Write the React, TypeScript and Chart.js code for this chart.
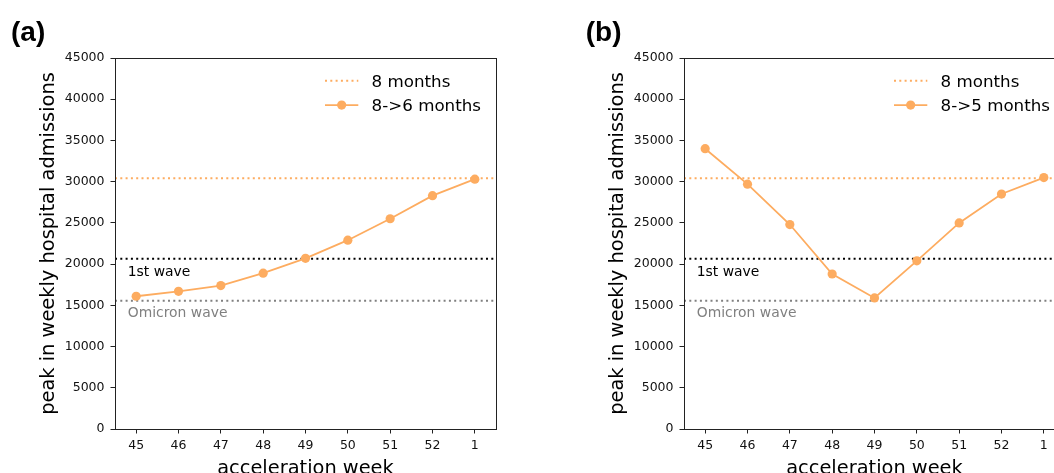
import React, { useEffect, useRef } from 'react';
import { Chart, registerables } from 'chart.js';

Chart.register(...registerables);

// ---------- data ----------
const WEEKS = ['45', '46', '47', '48', '49', '50', '51', '52', '1'];
const SERIES_A = [16100, 16700, 17400, 18900, 20700, 22900, 25500, 28300, 30300];
const SERIES_B = [34000, 29700, 24800, 18800, 15900, 20400, 25000, 28500, 30500];
const LABEL_A = '8->6 months';
const LABEL_B = '8->5 months';
const REF_LABEL = '8 months';
const REF_8_MONTHS = 30400;
const FIRST_WAVE = 20650;
const OMICRON_WAVE = 15550;
const FIRST_WAVE_TEXT = '1st wave';
const OMICRON_TEXT = 'Omicron wave';
const FIRST_WAVE_TEXT_Y = 18600;
const OMICRON_TEXT_Y = 13600;
const TEXT_X = -0.2;
const Y_MIN = 0;
const Y_MAX = 45000;
const Y_STEP = 5000;
const Y_TITLE = 'peak in weekly hospital admissions';
const X_TITLE = 'acceleration week';

// ---------- styles ----------
const ORANGE = 'rgb(253,172,96)';
const FONT = "'DejaVu Sans'";
const CANVAS_W = 527;
const CANVAS_H = 473;
const TICK_SIZE = 12.5;

const X_MIN = -0.5;
const X_MAX = WEEKS.length - 0.5;

const refPoints = (y: number) => [
  { x: X_MIN, y },
  { x: X_MAX, y },
];

const mplPlugin = {
  id: 'mplExtras',
  afterDatasetsDraw(chart: any, _args: any, opts: any) {
    const ctx = chart.ctx;
    const area = chart.chartArea;
    const xs = chart.scales.x;
    const ys = chart.scales.y;
    ctx.save();
    // reference text labels
    ctx.font = `13.9px ${FONT}`;
    ctx.textBaseline = 'alphabetic';
    ctx.textAlign = 'left';
    (opts.texts || []).forEach((t: any) => {
      ctx.fillStyle = t.color;
      ctx.fillText(t.text, xs.getPixelForValue(t.x), ys.getPixelForValue(t.y));
    });
    // legend (matplotlib-like, upper right)
    const items = chart.data.datasets.filter((d: any) => d.label);
    const fs = 16.7;
    ctx.font = `${fs}px ${FONT}`;
    const tw = Math.max(...items.map((d: any) => ctx.measureText(d.label).width));
    const textX = area.right - 15 - tw;
    const handleR = textX - 13.3;
    const handleL = handleR - 33.3;
    items.forEach((d: any, i: number) => {
      const y = area.top + 22.8 + i * 24.3;
      ctx.strokeStyle = d.borderColor;
      ctx.lineWidth = d.borderWidth;
      ctx.setLineDash(d.borderDash || []);
      ctx.beginPath();
      ctx.moveTo(handleL, y);
      ctx.lineTo(handleR, y);
      ctx.stroke();
      ctx.setLineDash([]);
      if (d.pointRadius > 0) {
        ctx.fillStyle = d.pointBackgroundColor;
        ctx.beginPath();
        ctx.arc((handleL + handleR) / 2, y, d.pointRadius, 0, Math.PI * 2);
        ctx.fill();
      }
      ctx.fillStyle = '#000';
      ctx.textBaseline = 'alphabetic';
      ctx.fillText(d.label, textX, y + 0.36 * fs);
    });
    // box spines
    ctx.strokeStyle = '#222';
    ctx.lineWidth = 1;
    const l = Math.round(area.left) + 0.5;
    const r = Math.round(area.right) + 0.5;
    const t = Math.round(area.top) + 0.5;
    const b = Math.round(area.bottom) + 0.5;
    ctx.strokeRect(l, t, r - l, b - t);
    // panel letter
    ctx.font = `bold 28px 'Liberation Sans'`;
    ctx.fillStyle = '#000';
    ctx.fillText(opts.panel, opts.panelX, 41);
    ctx.restore();
  },
};

function makeConfig(values: number[], label: string, panel: string, panelX: number): any {
  const dotted = [2, 3.3];
  return {
    type: 'line',
    data: {
      datasets: [
        {
          label: REF_LABEL,
          data: refPoints(REF_8_MONTHS),
          borderColor: ORANGE,
          borderWidth: 2,
          borderDash: dotted,
          pointRadius: 0,
          order: 2,
        },
        {
          label,
          data: values.map((v, i) => ({ x: i, y: v })),
          borderColor: ORANGE,
          backgroundColor: ORANGE,
          pointBackgroundColor: ORANGE,
          pointBorderWidth: 0,
          borderWidth: 1.8,
          pointRadius: 4.6,
          tension: 0,
          order: 0,
        },
        {
          data: refPoints(FIRST_WAVE),
          borderColor: '#000',
          borderWidth: 2,
          borderDash: dotted,
          pointRadius: 0,
          order: 3,
        },
        {
          data: refPoints(OMICRON_WAVE),
          borderColor: '#808080',
          borderWidth: 2,
          borderDash: dotted,
          pointRadius: 0,
          order: 4,
        },
      ],
    },
    options: {
      responsive: false,
      animation: false,
      events: [],
      layout: { padding: { left: 0, top: 58, right: 31, bottom: 0 } },
      plugins: {
        legend: { display: false },
        tooltip: { enabled: false },
        mplExtras: {
          panel,
          panelX,
          texts: [
            { text: FIRST_WAVE_TEXT, x: TEXT_X, y: FIRST_WAVE_TEXT_Y, color: '#000' },
            { text: OMICRON_TEXT, x: TEXT_X, y: OMICRON_TEXT_Y, color: '#808080' },
          ],
        },
      },
      scales: {
        x: {
          type: 'linear',
          min: X_MIN,
          max: X_MAX,
          afterBuildTicks: (s: any) => {
            s.ticks = WEEKS.map((_, i) => ({ value: i }));
          },
          afterFit: (s: any) => {
            s.height = 44;
          },
          ticks: {
            autoSkip: false,
            maxRotation: 0,
            padding: 4.7,
            color: '#111',
            font: { family: FONT, size: TICK_SIZE },
            callback: (v: number) => WEEKS[v],
          },
          grid: { drawOnChartArea: false, drawTicks: true, tickLength: 4.5, color: '#222' },
          border: { display: true, color: '#222' },
          title: {
            display: true,
            text: X_TITLE,
            color: '#000',
            font: { family: FONT, size: 19.4, lineHeight: 0.45 },
            padding: 0,
          },
        },
        y: {
          type: 'linear',
          min: Y_MIN,
          max: Y_MAX,
          afterFit: (s: any) => {
            s.width = 115;
          },
          ticks: {
            stepSize: Y_STEP,
            padding: 6,
            color: '#111',
            font: { family: FONT, size: TICK_SIZE },
            callback: (v: number) => String(v),
          },
          grid: { drawOnChartArea: false, drawTicks: true, tickLength: 4.5, color: '#222' },
          border: { display: true, color: '#222' },
          title: {
            display: true,
            text: Y_TITLE,
            color: '#000',
            font: { family: FONT, size: 19.4, lineHeight: 1.2 },
            padding: { top: 37.4, bottom: 0 },
          },
        },
      },
    },
    plugins: [mplPlugin],
  };
}

function Panel({ values, label, panel, left, panelX }: any) {
  const ref = useRef<HTMLCanvasElement | null>(null);
  useEffect(() => {
    if (!ref.current) return;
    const chart = new Chart(ref.current, makeConfig(values, label, panel, panelX));
    return () => chart.destroy();
  }, [values, label, panel, panelX]);
  return (
    <canvas
      ref={ref}
      width={CANVAS_W}
      height={CANVAS_H}
      style={{ position: 'absolute', left, top: 0, width: CANVAS_W, height: CANVAS_H }}
    />
  );
}

export default function App() {
  return (
    <div
      style={{
        position: 'absolute',
        left: 0,
        top: 0,
        width: 1054,
        height: 473,
        overflow: 'hidden',
        background: '#fff',
      }}
    >
      <Panel values={SERIES_A} label={LABEL_A} panel="(a)" left={0} panelX={11} />
      <Panel values={SERIES_B} label={LABEL_B} panel="(b)" left={569} panelX={16.7} />
    </div>
  );
}
